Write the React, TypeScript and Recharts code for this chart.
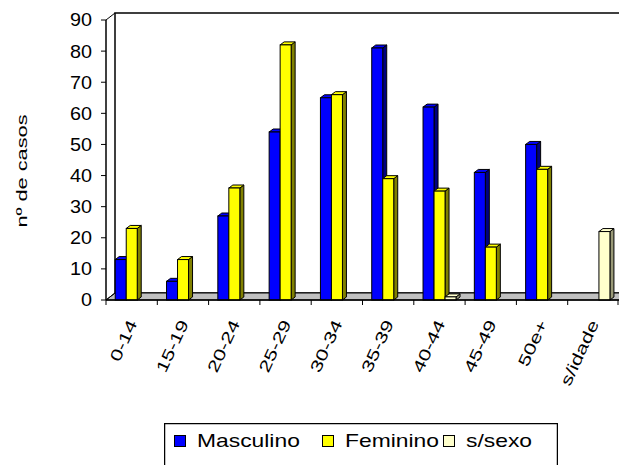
import React from 'react';
import { BarChart, Bar, XAxis, YAxis } from 'recharts';

const categories = ['0-14', '15-19', '20-24', '25-29', '30-34', '35-39', '40-44', '45-49', '50e+', 's/idade'];
const masculino = [13, 6, 27, 54, 65, 81, 62, 41, 50, null];
const feminino = [23, 13, 36, 82, 66, 39, 35, 17, 42, null];
const semSexo = [null, null, null, null, null, null, 1, null, null, 22];
const yTicks = [0, 10, 20, 30, 40, 50, 60, 70, 80, 90];

const series = [
  { key: 'm', name: 'Masculino', color: '#0000ff', side: '#000080' },
  { key: 'f', name: 'Feminino', color: '#ffff00', side: '#808000' },
  { key: 's', name: 's/sexo', color: '#ffffcc', side: '#999977' },
];

const data = categories.map((c, i) => ({ cat: c, m: masculino[i], f: feminino[i], s: semSexo[i] }));

const FONT = '"Liberation Sans", Arial, sans-serif';
const W = 619;
const H = 465;
const PLOT_LEFT = 106;
const PLOT_TOP = 20;
const PLOT_BOTTOM = 300;
const DX = 9;
const DY = 7;
const BAND = (W - PLOT_LEFT) / categories.length;

function Bar3D(props: any) {
  const { x, y, width, height, fill, side } = props;
  if (height == null || height <= 0 || width == null) return null;
  const d = 4;
  const e = 3;
  return (
    <g stroke="#000" strokeWidth={1}>
      <polygon points={`${x + width},${y} ${x + width + d},${y - e} ${x + width + d},${y + height - e} ${x + width},${y + height}`} fill={side} />
      <polygon points={`${x},${y} ${x + d},${y - e} ${x + width + d},${y - e} ${x + width},${y}`} fill={fill} />
      <rect x={x} y={y} width={width} height={height} fill={fill} />
    </g>
  );
}

// labels plus the tick marks that Excel puts between categories
function XTick(props: any) {
  const { x, y, payload, index } = props;
  const left = x - BAND / 2;
  return (
    <g>
      <line x1={left} y1={y} x2={left} y2={y + 5} stroke="#000" />
      {index === categories.length - 1 && (
        <line x1={left + BAND - 1} y1={y} x2={left + BAND - 1} y2={y + 5} stroke="#000" />
      )}
      <g transform={`translate(${x + 1},${y + 21}) rotate(-65) scale(1.36,1)`}>
        <text x={0} y={0} dy="0.35em" textAnchor="end" fontSize={16} fontFamily={FONT} fill="#000">
          {payload.value}
        </text>
      </g>
    </g>
  );
}

function YTick(props: any) {
  const { x, y, payload } = props;
  return (
    <g transform={`translate(${x},${y}) scale(1.1,1)`}>
      <text x={0} y={0} dy="0.36em" textAnchor="end" fontSize={18} fontFamily={FONT} fill="#000">
        {payload.value}
      </text>
    </g>
  );
}

function Frame() {
  const bx = PLOT_LEFT + DX;
  const by = PLOT_BOTTOM - DY;
  const ty = PLOT_TOP - DY;
  return (
    <svg width={W} height={H} style={{ position: 'absolute', left: 0, top: 0 }}>
      <rect x={bx} y={ty} width={W - bx + 2} height={by - ty} fill="#fff" stroke="#000" strokeWidth={1.5} />
      <line x1={PLOT_LEFT} y1={PLOT_TOP} x2={bx} y2={ty} stroke="#000" />
      <polygon points={`${PLOT_LEFT},${PLOT_BOTTOM} ${bx},${by} ${W + 2},${by} ${W + 2},${PLOT_BOTTOM}`} fill="#c0c0c0" stroke="#000" />
      <line x1={PLOT_LEFT} y1={PLOT_BOTTOM} x2={bx} y2={by} stroke="#000" />
    </svg>
  );
}

const legendX = [10, 158, 279];

function LegendBox() {
  return (
    <svg width={394} height={50} style={{ position: 'absolute', left: 164, top: 423 }}>
      <rect x={0.5} y={0.5} width={393} height={60} fill="#fff" stroke="#000" strokeWidth={1.5} />
      {series.map((s, i) => (
        <g key={s.key}>
          <rect x={legendX[i] + 0.5} y={12.5} width={11} height={11} fill={s.color} stroke="#000" />
          <g transform={`translate(${legendX[i] + 23},24) scale(1.27,1)`}>
            <text x={0} y={0} fontSize={18} fontFamily={FONT} fill="#000">{s.name}</text>
          </g>
        </g>
      ))}
    </svg>
  );
}

export default function App() {
  return (
    <div style={{ position: 'absolute', left: 0, top: 0, width: W, height: H, background: '#fff', overflow: 'hidden' }}>
      <Frame />
      <div style={{ position: 'absolute', left: 0, top: 0 }}>
        <BarChart
          width={W}
          height={H}
          data={data}
          margin={{ top: PLOT_TOP, right: 0, bottom: 0, left: 0 }}
          barCategoryGap="18%"
          barGap={0}
        >
          <XAxis
            dataKey="cat"
            height={H - PLOT_BOTTOM}
            tickSize={0}
            tickMargin={0}
            tickLine={false}
            axisLine={{ stroke: '#000', strokeWidth: 1.5 }}
            tick={<XTick />}
            interval={0}
          />
          <YAxis
            width={PLOT_LEFT}
            domain={[0, 90]}
            ticks={yTicks}
            tickSize={5}
            tickMargin={9}
            axisLine={{ stroke: '#000', strokeWidth: 1.5 }}
            tickLine={{ stroke: '#000' }}
            tick={<YTick />}
            label={{
              content: () => (
                <g transform="translate(22,171) rotate(-90) scale(1.45,1)">
                  <text x={0} y={0} dy="0.35em" textAnchor="middle" fontSize={15} fontFamily={FONT} fill="#000">
                    nº de casos
                  </text>
                </g>
              ),
            }}
          />
          {series.map((s) => (
            <Bar
              key={s.key}
              dataKey={s.key}
              name={s.name}
              fill={s.color}
              isAnimationActive={false}
              shape={(p: any) => <Bar3D {...p} side={s.side} />}
            />
          ))}
        </BarChart>
      </div>
      <LegendBox />
    </div>
  );
}
